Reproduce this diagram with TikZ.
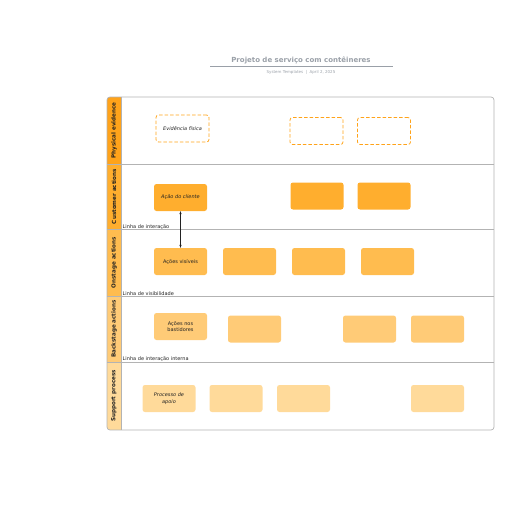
\documentclass[tikz,border=0pt]{standalone}
\usepackage{fontspec}
\setmainfont{DejaVu Sans}
\usepackage{tikz}
\usetikzlibrary{arrows.meta,positioning}
\definecolor{ink}{HTML}{222222}
\definecolor{frame}{HTML}{B3B3B3}
\definecolor{titlegray}{HTML}{9AA0A8}
\definecolor{laneA}{HTML}{FFA31A}
\definecolor{laneB}{HTML}{FFAE2E}
\definecolor{laneC}{HTML}{FFBC4F}
\definecolor{laneD}{HTML}{FFCB77}
\definecolor{laneE}{HTML}{FFDA9A}

\begin{document}
\begin{tikzpicture}[x=1pt,y=-1pt,
  lanelabel/.style={rotate=90,font=\bfseries\fontsize{5.6}{6}\selectfont,text=ink},
  card/.style={rounded corners=2.5pt,minimum width=53pt,minimum height=27pt,align=center,inner sep=1pt,text=ink,font=\fontsize{5}{6.5}\selectfont},
  evid/.style={card,draw=laneA,dash pattern=on 3.5pt off 2pt,line width=0.8pt,font=\itshape\fontsize{5}{6.5}\selectfont},
  cust/.style={card,fill=laneB,font=\itshape\fontsize{5}{6.5}\selectfont},
  onst/.style={card,fill=laneC},
  back/.style={card,fill=laneD},
  supp/.style={card,fill=laneE,font=\itshape\fontsize{5}{6.5}\selectfont},
  linelabel/.style={anchor=south west,inner sep=0.5pt,font=\fontsize{5}{6}\selectfont,text=ink},
  arr/.style={{Stealth[length=3pt]}-{Stealth[length=3pt]},draw=ink,line width=0.6pt}]
  \useasboundingbox (0,0) rectangle (516,516);
  % title
  \node[font=\bfseries\fontsize{7}{9}\selectfont,text=titlegray] (title) at (301,60) {Projeto de serviço com contêineres};
  \draw[titlegray,line width=0.6pt] (210,66.5) -- (393,66.5);
  \node[font=\fontsize{4}{5}\selectfont,text=titlegray] (sub) at (301,72) {System Templates \ | \ April 2, 2025};
  % lane strips
  \begin{scope}
    \clip[rounded corners=3pt] (107,97) rectangle (494,430);
    \fill[laneA] (107,97) rectangle (121,164);
    \fill[laneB] (107,164) rectangle (121,229);
    \fill[laneC] (107,229) rectangle (121,296);
    \fill[laneD] (107,296) rectangle (121,362);
    \fill[laneE] (107,362) rectangle (121,430);
  \end{scope}
  \draw[frame,line width=0.7pt,rounded corners=3pt] (107,97) rectangle (494,430);
  \draw[frame,line width=0.5pt] (121,97) -- (121,430);
  \foreach \y in {164,229,296,362}
    \draw[frame,line width=0.7pt] (107,\y) -- (494,\y);
  \node[lanelabel] (lab1) at (114,130.5) {Physical evidence};
  \node[lanelabel] (lab2) at (114,196.5) {Customer actions};
  \node[lanelabel] (lab3) at (114,262.5) {Onstage actions};
  \node[lanelabel] (lab4) at (114,329) {Backstage actions};
  \node[lanelabel] (lab5) at (114,396) {Support process};
  % line labels
  \node[linelabel] (lint) at (122,230) {Linha de interação};
  \node[linelabel] (lvis) at (122,296.5) {Linha de visibilidade};
  \node[linelabel] (lintern) at (122,362.5) {Linha de interação interna};
  % cards
  \node[evid] (ev1) at (182.5,128.5) {Evidência física};
  \node[evid] (ev2) at (316.5,131) {};
  \node[evid] (ev3) at (384,131) {};
  \node[cust] (cu1) at (180.5,197.5) {Ação do cliente};
  \node[cust] (cu2) at (317,196) {};
  \node[cust] (cu3) at (384,196) {};
  \node[onst] (on1) at (180.5,261.5) {Ações visíveis};
  \node[onst] (on2) at (249.5,261.5) {};
  \node[onst] (on3) at (318.5,261.5) {};
  \node[onst] (on4) at (387.5,261.5) {};
  \node[back] (ba1) at (180.5,326.5) {Ações nos\\bastidores};
  \node[back] (ba2) at (254.5,329) {};
  \node[back] (ba3) at (369.5,329) {};
  \node[back] (ba4) at (437.5,329) {};
  \node[supp] (su1) at (169,398.5) {Processo de\\apoio};
  \node[supp] (su2) at (236,398.5) {};
  \node[supp] (su3) at (303.5,398.5) {};
  \node[supp] (su4) at (437.5,398.5) {};
  \draw[arr] (cu1) -- (on1);
\end{tikzpicture}
\end{document}
